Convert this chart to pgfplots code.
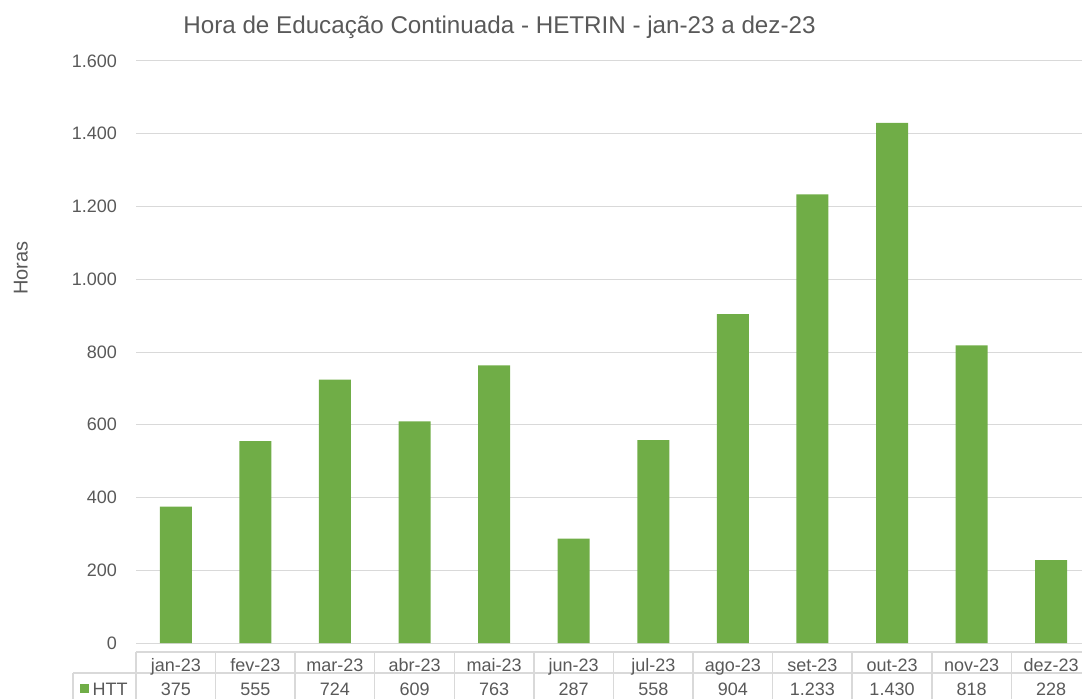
\documentclass[border=0pt]{standalone}
\usepackage{pgfplots}
\pgfplotsset{compat=1.18}
\usepackage{fontspec}
\setmainfont{Liberation Sans}
\definecolor{htt}{HTML}{70AD47}
\definecolor{txt}{HTML}{595959}
\definecolor{gridc}{HTML}{D9D9D9}
\newcommand\tf{\fontsize{18bp}{21bp}\selectfont}
\begin{document}
\begin{tikzpicture}[x=1bp,y=1bp]
\useasboundingbox (0,0) rectangle (1082,-699);
\begin{axis}[
  at={(136bp,-643bp)}, anchor=south west,
  scale only axis, width=955bp, height=582bp,
  ybar, bar width=32bp, bar shift=0pt,
  xmin=0.5, xmax=12.5, ymin=0, ymax=1600,
  xtick=\empty, ytick={0,200,...,1600},
  ymajorgrids, grid style={gridc, line width=1bp},
  axis line style={draw=none},
  major tick length=0pt,
  yticklabel style={anchor=east, inner sep=0pt, xshift=-19bp, font=\tf, text=txt},
  /pgf/number format/.cd, 1000 sep={.}, assume math mode=true,
]
\addplot[fill=htt, draw=none] coordinates {
  (1,375) (2,555) (3,724) (4,609) (5,763) (6,287)
  (7,558) (8,904) (9,1233) (10,1430) (11,818) (12,228)
};
\end{axis}
% title and y label
\node[anchor=base, inner sep=0, text=txt, font=\fontsize{24.2bp}{27bp}\selectfont]
  at (499.5,-33.5) {Hora de Educação Continuada - HETRIN - jan-23 a dez-23};
\node[anchor=base, rotate=90, inner sep=0, text=txt, font=\fontsize{20bp}{23bp}\selectfont] at (27.5,-268) {Horas};
% data table
\begin{scope}[gridc, line width=1.5bp]
  \foreach \k in {0,...,12}
    \draw ({136+\k*79.58},-652) -- ({136+\k*79.58},-705);
  \draw (136,-652) -- (1091,-652);
  \draw (73,-673) -- (1091,-673);
  \draw (73,-673) -- (73,-705);
  \draw (73,-703) -- (1091,-703);
\end{scope}
\foreach \m [count=\i] in {jan-23,fev-23,mar-23,abr-23,mai-23,jun-23,jul-23,ago-23,set-23,out-23,nov-23,dez-23}
  \node[anchor=base, inner sep=0, text=txt, font=\tf] at ({136+(\i-0.5)*79.58},-671.5) {\m};
\foreach \v [count=\i] in {375,555,724,609,763,287,558,904,1.233,1.430,818,228}
  \node[anchor=base, inner sep=0, text=txt, font=\tf] at ({136+(\i-0.5)*79.58},-695) {\v};
\fill[htt] (80,-684) rectangle (88.7,-692.5);
\node[anchor=base west, inner sep=0, text=txt, font=\tf] at (92.5,-695) {HTT};
\end{tikzpicture}
\end{document}
